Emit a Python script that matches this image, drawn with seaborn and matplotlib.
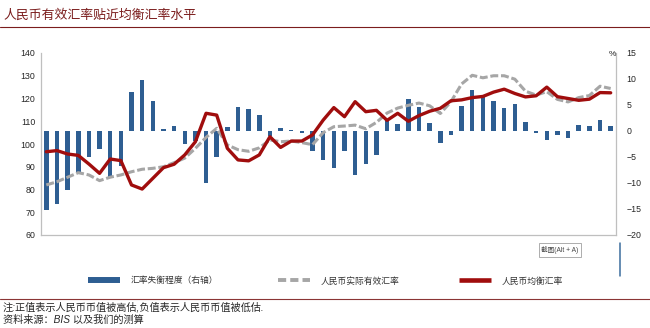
import numpy as np
import pandas as pd
import matplotlib
matplotlib.use("Agg")
import matplotlib.pyplot as plt
from matplotlib.lines import Line2D
import seaborn as sns

# Misalignment of the RMB (REER vs. equilibrium), % (right axis)
gap_pct = [-15.1, -14.1, -11.3, -8.0, -5.0, -3.4, -8.9, -6.8, 7.5, 9.8,
           5.7, 0.3, 0.9, -2.5, -2.0, -10.0, -5.0, 0.8, 4.6, 4.3,
           3.1, -1.0, 0.5, 0.2, -0.4, -3.9, -5.6, -7.1, -3.8, -8.4,
           -6.4, -4.7, 2.1, 1.4, 6.1, 4.6, 1.6, -2.3, -0.7, 4.8,
           7.9, 6.6, 5.7, 4.5, 5.2, 1.7, -0.35, -1.8, -0.7, -1.4,
           1.25, 1.05, 2.15, 1.0]

# Real effective exchange rate index (left axis)
reer = [82.0, 83.4, 85.4, 87.4, 86.4, 83.9, 85.4, 86.4, 87.8, 88.9,
        89.3, 90.0, 91.8, 93.8, 98.1, 102.9, 106.9, 99.6, 97.5, 96.8,
        98.3, 101.8, 101.0, 101.3, 100.6, 99.7, 105.0, 107.6, 107.9, 108.3,
        106.7, 109.5, 113.6, 115.8, 117.0, 118.0, 116.8, 113.4, 118.6, 126.4,
        130.2, 129.1, 130.0, 130.0, 128.5, 123.2, 121.5, 123.0, 119.6, 118.5,
        120.4, 121.3, 125.4, 124.4]

# Equilibrium exchange rate index (left axis)
equilibrium = [96.6, 97.1, 95.6, 95.0, 91.2, 87.1, 93.4, 92.7, 82.0, 80.2,
               84.9, 89.6, 91.1, 95.2, 101.0, 113.5, 112.7, 98.1, 93.0, 92.6,
               95.2, 103.2, 98.5, 101.3, 101.3, 104.0, 110.5, 116.0, 112.0, 118.6,
               114.2, 114.8, 110.4, 113.5, 110.0, 112.5, 114.4, 115.7, 119.0, 119.4,
               120.4, 120.9, 122.8, 124.1, 122.2, 120.7, 121.2, 125.0, 120.8, 120.0,
               119.2, 119.7, 122.6, 122.5]

left_ticks = [60, 70, 80, 90, 100, 110, 120, 130, 140]
right_ticks = [-20, -15, -10, -5, 0, 5, 10, 15]

title = "人民币有效汇率贴近均衡汇率水平"
series_names = ["汇率失衡程度（右轴）", "人民币实际有效汇率", "人民币均衡汇率"]
notes = ["注:正值表示人民币币值被高估,负值表示人民币币值被低估.",
         "资料来源：BIS 以及我们的测算"]

BLUE = "#2E5E92"
GRAY = "#A6A6A6"
RED = "#A00D0D"
MAROON = "#7B1D1D"
SPINE = "#BFBFBF"
TXT = "#262626"

sns.set_theme(style="white")
plt.rcParams["font.family"] = ["Liberation Sans", "Noto Sans CJK SC", "DejaVu Sans"]

W, H = 650, 328
fig = plt.figure(figsize=(W / 100, H / 100), dpi=100)
fig.patch.set_facecolor("white")

def fx(px):
    return px / W

def fy(py):
    return 1 - py / H

x0, x1, y0, y1 = 41, 616, 53, 235
ax_bar = fig.add_axes([fx(x0), fy(y1), (x1 - x0) / W, (y1 - y0) / H])
ax_line = ax_bar.twinx()

df = pd.DataFrame({
    "period": np.arange(len(gap_pct)),
    "gap": gap_pct,
    "reer": reer,
    "eq": equilibrium,
})

sns.barplot(data=df, x="period", y="gap", color=BLUE, saturation=1,
            width=0.42, linewidth=0, ax=ax_bar)

sns.lineplot(data=df, x="period", y="reer", color=GRAY, linewidth=2.2,
             ax=ax_line)
sns.lineplot(data=df, x="period", y="eq", color=RED, linewidth=2.4,
             ax=ax_line)
ax_line.lines[0].set_dashes((2.6, 0.9))
ax_line.lines[0].set_dash_capstyle("butt")
ax_line.lines[1].set_solid_joinstyle("round")

ax_bar.set_xlim(-0.5, len(gap_pct) - 0.5)
ax_bar.set_ylim(right_ticks[0], right_ticks[-1])
ax_line.set_ylim(left_ticks[0], left_ticks[-1])

ax_bar.set_xticks([])
ax_bar.set_yticks(right_ticks)
ax_line.set_yticks(left_ticks)
ax_bar.yaxis.tick_right()
ax_line.yaxis.tick_left()
for a in (ax_bar, ax_line):
    a.set_xlabel("")
    a.set_ylabel("")

ax_bar.tick_params(axis="y", length=0, pad=7.5, labelsize=6.3, labelcolor=TXT)
ax_line.tick_params(axis="y", length=0, pad=4.2, labelsize=6.3, labelcolor=TXT)

for a in (ax_bar, ax_line):
    for s in a.spines.values():
        s.set_visible(False)
for side in ("left", "right", "bottom"):
    ax_bar.spines[side].set_visible(True)
    ax_bar.spines[side].set_color(SPINE)
    ax_bar.spines[side].set_linewidth(0.9)

ax_bar.text(0.994, 0.99, "%", transform=ax_bar.transAxes, ha="center",
            va="center", fontsize=6, color=TXT)

# Title and rules
fig.text(fx(3), fy(15.5), title, ha="left", va="center", fontsize=9.3,
         color=MAROON, family=["Noto Sans CJK SC", "DejaVu Sans"])
fig.add_artist(Line2D([0, 1], [fy(27), fy(27)], color=MAROON, lw=0.8))
fig.add_artist(Line2D([0, 1], [fy(299), fy(299)], color="#8B3535", lw=0.8))

# Legend keys
def add_key(handle, label, x_px, y_px=281):
    fig.legend([handle], [label], loc="center left",
               bbox_to_anchor=(fx(x_px), fy(y_px)), frameon=False,
               fontsize=6.3, handlelength=3.6, handletextpad=1.25,
               borderpad=0, borderaxespad=0, labelcolor="#333333")

add_key(Line2D([], [], color=BLUE, lw=4.3, solid_capstyle="butt"),
        series_names[0], 88)
add_key(Line2D([], [], color=GRAY, lw=2.8, dashes=(2.1, 1.05),
               dash_capstyle="butt"), series_names[1], 278)
add_key(Line2D([], [], color=RED, lw=3.3, solid_capstyle="butt"),
        series_names[2], 459)

# Screenshot tooltip and cursor marks
fig.text(fx(560), fy(250), "截图(Alt + A)", ha="center", va="center",
         fontsize=4.8, color="#444444",
         bbox=dict(boxstyle="square,pad=0.4", fc="white", ec="#A0A0A0", lw=0.6))
fig.add_artist(Line2D([fx(620), fx(620)], [fy(243), fy(276)], color="#3C6E9E", lw=1.1))

# Notes
fig.text(fx(3), fy(307), notes[0], ha="left", va="center", fontsize=7.3,
         color=TXT, style="italic")
fig.text(fx(3), fy(319.5), notes[1], ha="left", va="center", fontsize=7.3,
         color=TXT, style="italic")

fig.savefig("out.png", dpi=100, facecolor="white")
